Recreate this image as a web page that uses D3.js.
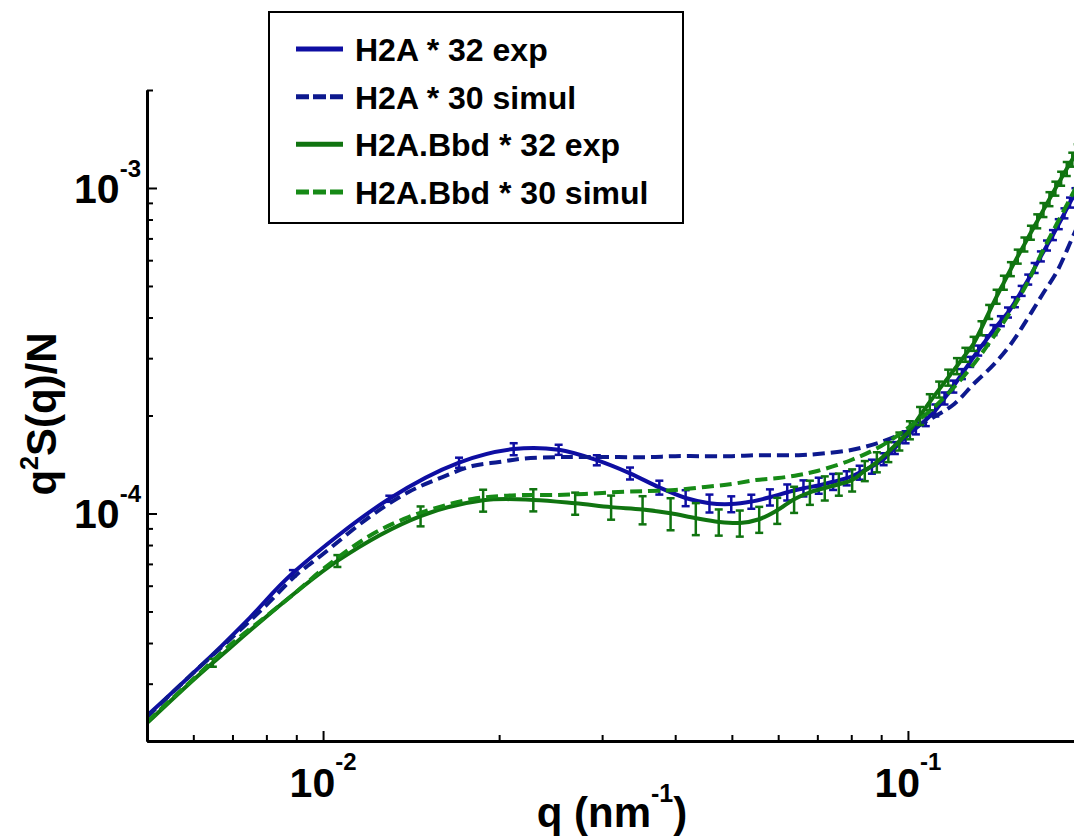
<!DOCTYPE html>
<html>
<head>
<meta charset="utf-8">
<script src="https://cdn.jsdelivr.net/npm/d3@7"></script>
<style>
    body { margin: 0; background: #fff; }
    svg text { font-family: "Liberation Sans", Arial, sans-serif; font-weight: bold; fill: #000; }
</style>
</head>
<body>
<div id="chart"></div>
<script>
// simulation curves, sampled on a log grid of q (nm^-1)
const qSim = [0.005, 0.006, 0.007, 0.008, 0.009, 0.01, 0.012, 0.014, 0.016, 0.018, 0.02, 0.022, 0.025, 0.028,
    0.032, 0.036, 0.04, 0.045, 0.05, 0.055, 0.06, 0.065, 0.07, 0.08, 0.09, 0.1, 0.11, 0.12, 0.13, 0.14, 0.15,
    0.16, 0.17, 0.18, 0.19, 0.195];
const h2aSim = [2.37e-5, 3.24e-5, 4.17e-5, 5.23e-5, 6.47e-5, 7.51e-5, 9.75e-5, 1.164e-4, 1.294e-4, 1.399e-4,
    1.439e-4, 1.475e-4, 1.49e-4, 1.49e-4, 1.49e-4, 1.49e-4, 1.50e-4, 1.50e-4, 1.50e-4, 1.51e-4, 1.51e-4,
    1.51e-4, 1.523e-4, 1.567e-4, 1.658e-4, 1.793e-4, 1.965e-4, 2.170e-4, 2.517e-4, 2.860e-4, 3.317e-4,
    3.958e-4, 4.724e-4, 5.558e-4, 6.874e-4, 7.642e-4];
const bbdSim = [2.29e-5, 3.10e-5, 4.00e-5, 4.84e-5, 5.74e-5, 6.75e-5, 8.53e-5, 9.75e-5, 1.054e-4, 1.108e-4,
    1.131e-4, 1.140e-4, 1.140e-4, 1.148e-4, 1.164e-4, 1.172e-4, 1.181e-4, 1.206e-4, 1.232e-4, 1.267e-4,
    1.285e-4, 1.313e-4, 1.351e-4, 1.460e-4, 1.612e-4, 1.831e-4, 2.094e-4, 2.447e-4, 2.900e-4, 3.485e-4,
    4.188e-4, 5.106e-4, 6.404e-4, 7.806e-4, 9.386e-4, 1.029e-3];

// experimental points (value and error bar half height)
const qExpH2A = [0.005, 0.0065, 0.0075, 0.00888, 0.01298, 0.01708, 0.02118, 0.02528, 0.02938, 0.03348, 0.03758,
    0.04168, 0.04578, 0.04988, 0.05398, 0.05808, 0.06218, 0.06628, 0.07038, 0.07448, 0.07858, 0.08268, 0.08678,
    0.09088, 0.09498, 0.09908, 0.10318, 0.10728, 0.11138, 0.11548, 0.11958, 0.12368, 0.12778, 0.13188, 0.13598,
    0.14008, 0.14418, 0.14828, 0.15238, 0.15648, 0.16058, 0.16468, 0.16878, 0.17288, 0.17698, 0.18108, 0.18518,
    0.18928, 0.19338];
const h2aExp = [2.39e-5, 3.71e-5, 4.79e-5, 6.56e-5, 1.110e-4, 1.433e-4, 1.577e-4, 1.570e-4, 1.458e-4, 1.328e-4,
    1.202e-4, 1.116e-4, 1.075e-4, 1.069e-4, 1.088e-4, 1.122e-4, 1.162e-4, 1.196e-4, 1.219e-4, 1.252e-4, 1.284e-4,
    1.336e-4, 1.394e-4, 1.469e-4, 1.590e-4, 1.716e-4, 1.827e-4, 1.937e-4, 2.074e-4, 2.258e-4, 2.456e-4, 2.682e-4,
    2.924e-4, 3.168e-4, 3.408e-4, 3.662e-4, 3.900e-4, 4.146e-4, 4.460e-4, 4.832e-4, 5.234e-4, 5.682e-4, 6.166e-4,
    6.660e-4, 7.170e-4, 7.746e-4, 8.362e-4, 9.024e-4, 9.644e-4];
const h2aErr = [0, 0, 0, 1.4e-6, 2.4e-6, 5.1e-6, 6.7e-6, 5.6e-6, 5.2e-6, 5.6e-6, 5.9e-6, 6.3e-6, 6.8e-6, 6.0e-6,
    5.4e-6, 6.4e-6, 6.6e-6, 6.8e-6, 6.9e-6, 7.1e-6, 6.4e-6, 6.6e-6, 6.9e-6, 6.2e-6, 6.7e-6, 7.3e-6, 7.7e-6, 8.2e-6,
    8.8e-6, 9.6e-6, 1.04e-5, 9.5e-6, 1.04e-5, 1.12e-5, 1.21e-5, 1.30e-5, 1.38e-5, 1.47e-5, 1.58e-5, 1.71e-5,
    1.85e-5, 2.01e-5, 2.18e-5, 2.36e-5, 2.54e-5, 2.74e-5, 2.96e-5, 3.19e-5, 3.41e-5];

const qExpBbd = [0.005, 0.0057, 0.00648, 0.01058, 0.01468, 0.01878, 0.02288, 0.02698, 0.03108, 0.03518, 0.03928,
    0.04338, 0.04748, 0.05158, 0.05568, 0.05978, 0.06388, 0.06798, 0.07208, 0.07618, 0.08028, 0.08438, 0.08848,
    0.09258, 0.09668, 0.10078, 0.10488, 0.10898, 0.11308, 0.11718, 0.12128, 0.12538, 0.12948, 0.13358, 0.13768,
    0.14178, 0.14588, 0.14998, 0.15408, 0.15818, 0.16228, 0.16638, 0.17048, 0.17458, 0.17868, 0.18278, 0.18688,
    0.19098, 0.19508];
const bbdExp = [2.27e-5, 2.83e-5, 3.48e-5, 7.15e-5, 9.82e-5, 1.098e-4, 1.101e-4, 1.075e-4, 1.046e-4, 1.028e-4,
    1.001e-4, 9.67e-5, 9.42e-5, 9.35e-5, 9.60e-5, 1.023e-4, 1.106e-4, 1.162e-4, 1.198e-4, 1.230e-4, 1.267e-4,
    1.353e-4, 1.440e-4, 1.547e-4, 1.667e-4, 1.805e-4, 1.997e-4, 2.200e-4, 2.406e-4, 2.618e-4, 2.840e-4, 3.076e-4,
    3.324e-4, 3.712e-4, 4.166e-4, 4.638e-4, 5.122e-4, 5.638e-4, 6.160e-4, 6.712e-4, 7.296e-4, 7.908e-4, 8.564e-4,
    9.25e-4, 9.964e-4, 1.069e-3, 1.145e-3, 1.223e-3, 1.299e-3];
const bbdErr = [0, 0, 9.8e-7, 3.0e-6, 6.9e-6, 8.5e-6, 8.6e-6, 8.4e-6, 8.9e-6, 1.02e-5, 1.13e-5, 1.09e-5, 8.7e-6,
    8.6e-6, 8.8e-6, 9.4e-6, 1.02e-5, 9.9e-6, 1.02e-5, 9.6e-6, 9.9e-6, 9.6e-6, 1.02e-5, 1.09e-5, 1.06e-5, 1.15e-5,
    1.27e-5, 1.25e-5, 1.36e-5, 1.48e-5, 1.61e-5, 1.52e-5, 1.65e-5, 1.84e-5, 2.06e-5, 2.30e-5, 2.54e-5, 2.79e-5,
    3.05e-5, 3.32e-5, 3.61e-5, 3.91e-5, 4.24e-5, 4.58e-5, 4.93e-5, 5.29e-5, 5.67e-5, 6.05e-5, 6.43e-5];

// axis ticks
const xMajorTicks = [0.01, 0.1];
const xTickExp = ["-2", "-1"];
const xMinorTicks = [0.006, 0.007, 0.008, 0.009, 0.02, 0.03, 0.04, 0.05, 0.06, 0.07, 0.08, 0.09];
const yMajorTicks = [1e-4, 1e-3];
const yTickExp = ["-4", "-3"];
const yMinorTicks = [2e-5, 3e-5, 4e-5, 5e-5, 6e-5, 7e-5, 8e-5, 9e-5, 2e-4, 3e-4, 4e-4, 5e-4, 6e-4, 7e-4, 8e-4,
    9e-4, 2e-3];

const seriesNames = ["H2A * 32 exp", "H2A * 30 simul", "H2A.Bbd * 32 exp", "H2A.Bbd * 30 simul"];

const width = 1074;
const height = 837;

const x = d3.scaleLog().domain([0.005, 0.2]).range([147, 1084]);
const y = d3.scaleLog().domain([2e-5, 2e-3]).range([741, 90]);

const svg = d3.select("#chart").append("svg")
    .attr("width", width)
    .attr("height", height);

svg.append("defs").append("clipPath").attr("id", "plotClip")
    .append("rect")
    .attr("x", 147).attr("y", 0)
    .attr("width", width - 147).attr("height", 741);

const series = [
    { name: seriesNames[0], color: "#0e0ea2", dash: null, data: qExpH2A.map((q, i) => ({ q: q, v: h2aExp[i], e: h2aErr[i] })) },
    { name: seriesNames[1], color: "#0d198e", dash: "12,6", data: qSim.map((q, i) => ({ q: q, v: h2aSim[i], e: 0 })) },
    { name: seriesNames[2], color: "#107410", dash: null, data: qExpBbd.map((q, i) => ({ q: q, v: bbdExp[i], e: bbdErr[i] })) },
    { name: seriesNames[3], color: "#168a16", dash: "12,6", data: qSim.map((q, i) => ({ q: q, v: bbdSim[i], e: 0 })) }
];

const line = d3.line()
    .x(d => x(d.q))
    .y(d => y(d.v))
    .curve(d3.curveCatmullRom.alpha(0.5));

const plot = svg.append("g").attr("clip-path", "url(#plotClip)");

series.forEach(s => {
    const g = plot.append("g");

    //error bars for the experimental points
    const bars = s.data.filter(d => d.e > 0);
    g.selectAll("line.err").data(bars).join("line")
        .attr("class", "err")
        .attr("x1", d => x(d.q)).attr("x2", d => x(d.q))
        .attr("y1", d => y(d.v - d.e)).attr("y2", d => y(d.v + d.e))
        .attr("stroke", s.color).attr("stroke-width", 2.5);
    g.selectAll("line.capTop").data(bars).join("line")
        .attr("class", "capTop")
        .attr("x1", d => x(d.q) - 4).attr("x2", d => x(d.q) + 4)
        .attr("y1", d => y(d.v + d.e)).attr("y2", d => y(d.v + d.e))
        .attr("stroke", s.color).attr("stroke-width", 2.5);
    g.selectAll("line.capBot").data(bars).join("line")
        .attr("class", "capBot")
        .attr("x1", d => x(d.q) - 4).attr("x2", d => x(d.q) + 4)
        .attr("y1", d => y(d.v - d.e)).attr("y2", d => y(d.v - d.e))
        .attr("stroke", s.color).attr("stroke-width", 2.5);

    g.append("path")
        .datum(s.data)
        .attr("d", line)
        .attr("fill", "none")
        .attr("stroke", s.color)
        .attr("stroke-width", 4)
        .attr("stroke-dasharray", s.dash);
});

//axes, ticks pointing inward
function styleAxis(g) {
    g.select(".domain").attr("stroke", "#000").attr("stroke-width", 3);
    g.selectAll(".tick line").attr("stroke", "#000").attr("stroke-width", 2);
    g.selectAll(".tick text").remove();
}

svg.append("g").attr("transform", "translate(0,741)")
    .call(d3.axisBottom(x).tickValues(xMinorTicks).tickSize(-6).tickSizeOuter(0).tickFormat(""))
    .call(styleAxis);
svg.append("g").attr("transform", "translate(0,741)")
    .call(d3.axisBottom(x).tickValues(xMajorTicks).tickSize(-10).tickSizeOuter(0).tickFormat(""))
    .call(styleAxis);
svg.append("g").attr("transform", "translate(147,0)")
    .call(d3.axisLeft(y).tickValues(yMinorTicks).tickSize(-6).tickSizeOuter(0).tickFormat(""))
    .call(styleAxis);
svg.append("g").attr("transform", "translate(147,0)")
    .call(d3.axisLeft(y).tickValues(yMajorTicks).tickSize(-10).tickSizeOuter(0).tickFormat(""))
    .call(styleAxis);

//tick labels as powers of ten
svg.selectAll("text.xlab").data(xMajorTicks).join("text")
    .attr("class", "xlab")
    .attr("x", d => x(d))
    .attr("y", 797)
    .attr("text-anchor", "middle")
    .style("font-size", "41px")
    .each(function (d, i) {
        const t = d3.select(this);
        t.append("tspan").text("10");
        t.append("tspan").attr("dy", -27).style("font-size", "24px").text(xTickExp[i]);
    });

svg.selectAll("text.ylab").data(yMajorTicks).join("text")
    .attr("class", "ylab")
    .attr("x", 141)
    .attr("y", d => y(d) + 15)
    .attr("text-anchor", "end")
    .style("font-size", "41px")
    .each(function (d, i) {
        const t = d3.select(this);
        t.append("tspan").text("10");
        t.append("tspan").attr("dy", -26).style("font-size", "24px").text(yTickExp[i]);
    });

//axis titles
const xTitle = svg.append("text")
    .attr("x", 612).attr("y", 827)
    .attr("text-anchor", "middle")
    .style("font-size", "42px");
xTitle.append("tspan").text("q (nm");
xTitle.append("tspan").attr("dy", -25).style("font-size", "25px").text("-1");
xTitle.append("tspan").attr("dy", 25).text(")");

const yTitle = svg.append("text")
    .attr("transform", "translate(56,414) rotate(-90)")
    .attr("text-anchor", "middle")
    .style("font-size", "42px");
yTitle.append("tspan").text("q");
yTitle.append("tspan").attr("dy", -18).style("font-size", "25px").text("2");
yTitle.append("tspan").attr("dy", 18).text("S(q)/N");

//legend box
const legend = svg.append("g");
legend.append("rect")
    .attr("x", 269).attr("y", 12)
    .attr("width", 414).attr("height", 211)
    .attr("fill", "#fff")
    .attr("stroke", "#000")
    .attr("stroke-width", 2);

const rowY = d3.scalePoint().domain(seriesNames).range([49, 192]);

series.forEach(s => {
    const cy = rowY(s.name);
    legend.append("line")
        .attr("x1", 296).attr("x2", 343)
        .attr("y1", cy).attr("y2", cy)
        .attr("stroke", s.color)
        .attr("stroke-width", 5)
        .attr("stroke-dasharray", s.dash ? "13,4" : null);
    legend.append("text")
        .attr("x", 355).attr("y", cy + 12)
        .style("font-size", "32px")
        .text(s.name);
});
</script>
</body>
</html>
